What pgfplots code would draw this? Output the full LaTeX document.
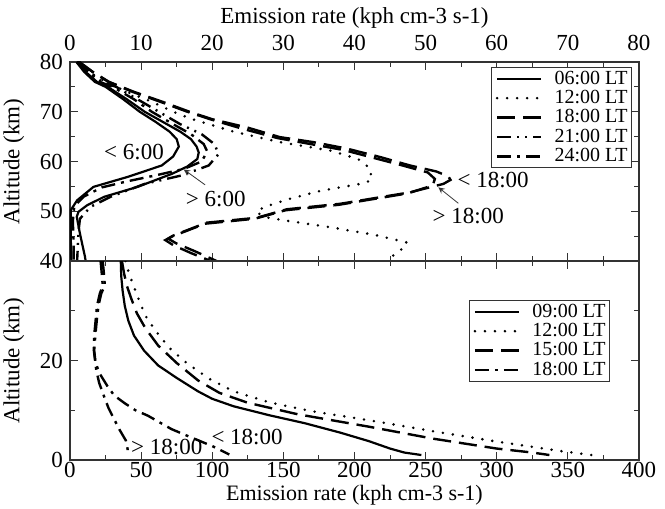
\documentclass[border=0pt]{standalone}
\usepackage{pgfplots}
\pgfplotsset{compat=1.18}
\usepackage{fontspec}
\setmainfont{Liberation Serif}
\tikzset{
 solidc/.style={black, line width=1.1pt, solid},
 dottedc/.style={black, line width=1.4pt, line cap=round, dash pattern=on 0pt off 5pt},
 dashedc/.style={black, line width=1.2pt, dash pattern=on 9pt off 4pt},
 dashdotdot/.style={black, line width=1.2pt, dash pattern=on 7pt off 3pt on 1pt off 3pt on 1pt off 3pt},
 dashdot/.style={black, line width=1.2pt, dash pattern=on 7pt off 3pt on 1.5pt off 3pt},
 annot/.style={font=\fontsize{11.5}{13}\selectfont, inner sep=0pt},
}
\pgfplotsset{
 myaxis/.style={
  scale only axis, width=284.5pt, height=99.5pt,
  axis line style={black!80, line width=0.6pt},
  every tick/.style={black!80, line width=0.5pt},
  major tick length=4pt, minor tick length=2.5pt,
  tick align=inside,
  tick label style={font=\fontsize{11.5}{13}\selectfont},
  label style={font=\fontsize{11.5}{13}\selectfont},
  /pgf/number format/assume math mode=true,
  legend cell align=left,
  legend image code/.code={\draw[##1] (0pt,0pt) -- (22pt,0pt);},
  legend style={draw=black!80, line width=0.5pt, font=\fontsize{10}{10}\selectfont,
   inner xsep=2pt, inner ysep=1.5pt, row sep=1.4pt, column sep=6pt,
   nodes={inner sep=0pt, text height=6.8pt, text depth=1.5pt}},
 }
}
\begin{document}
\begin{tikzpicture}
\useasboundingbox (-35pt,-124pt) rectangle (297.5pt,130.5pt);
% ---------------- top panel ----------------
\begin{axis}[myaxis,
 at={(0pt,0pt)}, anchor=south west,
 xmin=0, xmax=80, ymin=40, ymax=80,
 xtick={0,10,...,80}, minor x tick num=1,
 ytick={40,50,...,80}, minor y tick num=1,
 xticklabel pos=right,
 xticklabel style={yshift=2pt},
 xlabel={Emission rate (kph cm-3 s-1)},
 xlabel style={at={(axis description cs:0.5,1)}, anchor=center, yshift=22pt},
 ylabel={Altitude (km)},
 ylabel style={yshift=1pt},
 legend style={at={(0.988,0.975)}, anchor=north east},
]
\addplot[solidc] coordinates {(0.9,80)(2,78)(3.5,76)(5,75)(7.5,72.5)(9.8,70)(12,68)(14,66)(15,64.5)(15.3,63)(14.5,61)(12.9,59.2)(8.1,56.9)(3.3,54.9)(1,52.2)(0.1,50.2)(0.1,45)(0.2,40)};
\addlegendentry{06:00 LT}
\addplot[dottedc] coordinates {(1.2,80)(2.7,78)(5,76)(8,74)(11.5,72)(14.5,70)(17,68.6)(23,66)(29.5,63.9)(36.6,62.2)(40.5,60.5)(42.2,58.6)(42.4,56.2)(40.8,55.5)(35.2,54.1)(30.9,52.5)(27.2,50.8)(26.2,49.8)(27.5,48.8)(30.5,48.1)(37,46.7)(43,45.2)(47.4,43.7)(46.4,42)(44.3,40)};
\addlegendentry{12:00 LT}
\addplot[dashedc] coordinates {(1.3,80)(3.2,78)(5.5,76)(9,74)(13,72)(16.8,70)(20,68.5)(25,66.8)(29.5,64.9)(34.2,63.9)(38.9,62.6)(43.6,60.9)(47.8,59.2)(51.5,58)(53.2,57)(53.5,56.3)(52.5,55.5)(47.8,53.8)(38,51.5)(30.5,50.4)(26.3,48.7)(19.2,47.7)(14.5,45.1)(13.8,44.5)(15,43.5)(17.5,42)(20.6,40)};
\addlegendentry{18:00 LT}
\addplot[dashdotdot] coordinates {(1.1,80)(2.7,78)(4.5,76)(6.5,75)(9.5,72.5)(12.5,70)(15.5,67.5)(18.5,65.5)(20.3,63.5)(20.9,61.5)(19.5,59.2)(15.7,57.2)(10.5,55.5)(5.7,52.9)(2.9,50.9)(1.4,48.5)(1.2,46)(1.1,43)(1,40)};
\addlegendentry{21:00 LT}
\addplot[dashdot] coordinates {(1,80)(2.5,78)(4.2,76)(6,75)(9,72.5)(11.5,70)(14.5,67.5)(17,65.5)(18.8,63.5)(19.3,62)(18.5,60)(16,58.5)(12,57.2)(8,56)(4.5,54.8)(2,53)(0.6,51)(0.4,48)(0.5,44)(0.5,40)};
\addlegendentry{24:00 LT}
\addplot[solidc, forget plot] coordinates {(1,80)(2.2,78)(3.8,76)(5.3,75)(8,72.5)(10.5,70)(13,68)(15.5,66)(17,64.5)(17.8,63)(18.1,61.8)(17.9,60.5)(16.5,59)(14.3,57.5)(9.5,54.9)(4.8,52.9)(2.4,51.2)(1.2,49.9)(0.95,48.9)(1.4,45.5)(2.1,40.9)(2.2,40)};
\addplot[dashedc, forget plot] coordinates {(1.3,80)(3.2,78)(5.4,76)(8.8,74)(12.7,72)(16.5,70)(19.7,68.5)(24.2,66.6)(29.2,64.7)(38.5,62.3)(46.5,59.3)(50.3,57.8)(51.3,56.5)(51,55.2)(47.5,53.6)(37.8,51.3)(30.3,50.2)(26,48.5)(19,47.5)(14.3,44.9)(13.4,44.2)(14.5,43.2)(17,41.6)(19.8,40)};
\node[annot] at (axis cs:9,62) {< 6:00};
\node[annot] at (axis cs:20.5,52.5) {> 6:00};
\draw[black!80, line width=0.4pt, -stealth] (axis cs:19,55.3) -- (axis cs:16,58.4);
\node[annot] at (axis cs:59.5,56.2) {< 18:00};
\node[annot] at (axis cs:56,49.1) {> 18:00};
\draw[black!80, line width=0.4pt, -stealth] (axis cs:54.6,51.6) -- (axis cs:51.8,54.8);
\end{axis}
% ---------------- bottom panel ----------------
\begin{axis}[myaxis,
 at={(0pt,0pt)}, anchor=north west,
 xmin=0, xmax=400, ymin=0, ymax=40,
 xtick={0,50,...,400}, minor x tick num=1,
 ytick={0,20,40}, yticklabels={0,20,{}}, minor y tick num=1,
 xticklabel style={inner sep=1pt},
 xlabel={Emission rate (kph cm-3 s-1)},
 xlabel style={at={(axis description cs:0.5,0)}, anchor=north, inner sep=0pt, yshift=-12.5pt, font=\fontsize{11}{12}\selectfont},
 ylabel={Altitude (km)},
 ylabel style={yshift=1pt},
 legend style={at={(0.949,0.804)}, anchor=north east},
]
\addplot[solidc] coordinates {(35.7,40)(36,37)(37,34)(38.5,31)(41,28)(45,25)(52,22)(62,19)(75,16.5)(90,13.8)(100,12.3)(115,10.8)(140,9.0)(165,7.4)(190,5.5)(210,3.8)(225,2.3)(235,1.5)(247,1.0)};
\addlegendentry{09:00 LT}
\addplot[dottedc] coordinates {(39,40)(41,38)(44,35.5)(48,32.5)(53,29)(60,26)(70,22.5)(82,19.5)(98,16.3)(115,13.8)(140,11.6)(170,9.8)(210,8.0)(255,5.8)(300,3.7)(345,1.8)(372,0.8)};
\addlegendentry{12:00 LT}
\addplot[dashedc] coordinates {(36.5,40)(38,37.5)(40,35)(43,32.5)(47,29.5)(53,26.5)(62,23)(75,19.5)(90,16)(105,13.5)(125,11.5)(160,9.2)(210,6.7)(255,4.3)(300,2.3)(325,1.5)(337,1.0)};
\addlegendentry{15:00 LT}
\addplot[dashdot] coordinates {(23,40)(24,37)(24.5,35)(22,33.5)(20,31)(18.8,28)(17.8,25)(17,22)(18,19.5)(21,17.3)(26.2,14.9)(31,13)(38,11.5)(46,10)(54.8,8.9)(71.4,6.2)(88,4.2)(100,2.8)(112,1.1)};
\addlegendentry{18:00 LT}
\addplot[dashdot, forget plot] coordinates {(21.5,40)(22.5,37)(23,35)(21,33.5)(19,31)(18,28)(17,25)(16.7,22.2)(18.5,18)(20.5,15.5)(23.8,12.9)(27,10.5)(31,8.2)(35,6)(39.3,3.9)(40.5,2.2)(40.5,1)};
\node[annot] at (axis cs:124.5,4.6) {< 18:00};
\node[annot] at (axis cs:68,2.7) {> 18:00};
\end{axis}
\end{tikzpicture}
\end{document}
